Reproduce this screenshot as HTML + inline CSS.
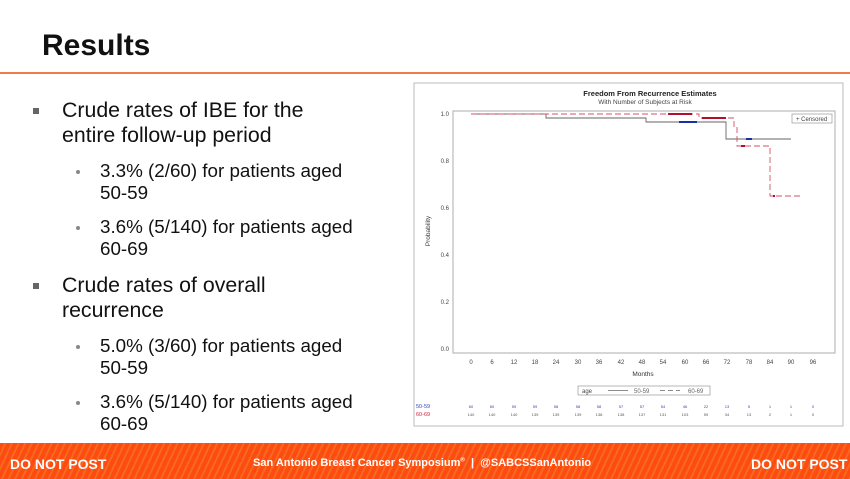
<!DOCTYPE html>
<html><head><meta charset="utf-8"><style>
body{margin:0;width:850px;height:479px;overflow:hidden;background:#fff;font-family:"Liberation Sans",Arial,sans-serif;position:relative}
.t{position:absolute;white-space:nowrap;color:#111}
.l1{font-size:21.3px;left:62px}
.l2{font-size:18.8px;left:100px}
.b1{position:absolute;left:33px;width:6px;height:6px;background:#666}
.b2{position:absolute;left:76px;width:4px;height:4px;border-radius:2px;background:#888}
</style></head><body>
<div class="t" style="left:42px;top:29px;font-size:30px;font-weight:bold">Results</div>
<div style="position:absolute;left:0;top:72px;width:850px;height:2px;background:#f07a4a"></div>

<div class="b1" style="top:108px"></div>
<div class="t l1" style="top:98px">Crude rates of IBE for the</div>
<div class="t l1" style="top:123px">entire follow-up period</div>
<div class="b2" style="top:170px"></div>
<div class="t l2" style="top:160px">3.3% (2/60) for patients aged</div>
<div class="t l2" style="top:182px">50-59</div>
<div class="b2" style="top:226px"></div>
<div class="t l2" style="top:216px">3.6% (5/140) for patients aged</div>
<div class="t l2" style="top:238px">60-69</div>
<div class="b1" style="top:283px"></div>
<div class="t l1" style="top:273px">Crude rates of overall</div>
<div class="t l1" style="top:298px">recurrence</div>
<div class="b2" style="top:345px"></div>
<div class="t l2" style="top:335px">5.0% (3/60) for patients aged</div>
<div class="t l2" style="top:357px">50-59</div>
<div class="b2" style="top:401px"></div>
<div class="t l2" style="top:391px">3.6% (5/140) for patients aged</div>
<div class="t l2" style="top:413px">60-69</div>

<svg style="position:absolute;left:0;top:0" width="850" height="479" font-family="Liberation Sans, Arial, sans-serif">
<rect x="414" y="83" width="429" height="343" fill="#fff" stroke="#bbb" stroke-width="1"/>
<text x="650" y="96" font-size="7.5" font-weight="bold" text-anchor="middle" fill="#222">Freedom From Recurrence Estimates</text>
<text x="645" y="104" font-size="6.5" text-anchor="middle" fill="#444">With Number of Subjects at Risk</text>
<rect x="453" y="111" width="382" height="242" fill="none" stroke="#999" stroke-width="0.8"/>
<g font-size="6" fill="#444" text-anchor="end">
<text x="449" y="116">1.0</text><text x="449" y="163">0.8</text><text x="449" y="210">0.6</text><text x="449" y="257">0.4</text><text x="449" y="304">0.2</text><text x="449" y="351">0.0</text>
</g>
<text x="430" y="231" font-size="6.5" fill="#444" text-anchor="middle" transform="rotate(-90 430 231)">Probability</text>
<g font-size="6" fill="#444" text-anchor="middle">
<text x="471" y="364">0</text><text x="492" y="364">6</text><text x="514" y="364">12</text><text x="535" y="364">18</text><text x="556" y="364">24</text><text x="578" y="364">30</text><text x="599" y="364">36</text><text x="621" y="364">42</text><text x="642" y="364">48</text><text x="663" y="364">54</text><text x="685" y="364">60</text><text x="706" y="364">66</text><text x="727" y="364">72</text><text x="749" y="364">78</text><text x="770" y="364">84</text><text x="791" y="364">90</text><text x="813" y="364">96</text>
</g>
<text x="643" y="376" font-size="6.5" fill="#333" text-anchor="middle">Months</text>
<rect x="792" y="114" width="40" height="9" fill="#fff" stroke="#888" stroke-width="0.6"/>
<text x="796" y="121" font-size="6" fill="#444">+ Censored</text>
<polyline fill="none" stroke="#666" stroke-width="0.9" points="471,114 546,114 546,118 646,118 646,122 726,122 726,139 791,139"/>
<polyline fill="none" stroke="#d0506a" stroke-width="0.9" stroke-dasharray="6,3" points="471,114 699,114 699,118 734,118 734,127 737,127 737,146 770,146 770,196 802,196"/>
<g fill="#1a2fa0"><rect x="679" y="121" width="18" height="2"/><rect x="746" y="138" width="6" height="2"/></g>
<g fill="#b0102a"><rect x="668" y="113" width="24" height="2"/><rect x="702" y="117" width="24" height="2"/><rect x="741" y="145" width="4" height="2"/><rect x="773" y="195" width="2" height="2"/></g>
<rect x="578" y="386" width="132" height="9" fill="#fff" stroke="#888" stroke-width="0.6"/>
<text x="582" y="393" font-size="6" fill="#444">age</text>
<line x1="608" y1="390.5" x2="628" y2="390.5" stroke="#666" stroke-width="0.8"/>
<text x="634" y="393" font-size="6" fill="#666">50-59</text>
<line x1="660" y1="390.5" x2="680" y2="390.5" stroke="#666" stroke-width="0.8" stroke-dasharray="5,3"/>
<text x="688" y="393" font-size="6" fill="#666">60-69</text>
<text x="416" y="408" font-size="5.5" fill="#3344bb">50-59</text>
<text x="416" y="416" font-size="5.5" fill="#cc2244">60-69</text>
<g font-size="4" fill="#3344bb" text-anchor="middle">
<text x="471" y="408">60</text><text x="492" y="408">60</text><text x="514" y="408">59</text><text x="535" y="408">59</text><text x="556" y="408">58</text><text x="578" y="408">58</text><text x="599" y="408">58</text><text x="621" y="408">57</text><text x="642" y="408">57</text><text x="663" y="408">54</text><text x="685" y="408">46</text><text x="706" y="408">22</text><text x="727" y="408">13</text><text x="749" y="408">5</text><text x="770" y="408">1</text><text x="791" y="408">1</text><text x="813" y="408">0</text>
</g>
<g font-size="4" fill="#555" text-anchor="middle">
<text x="471" y="416">140</text><text x="492" y="416">140</text><text x="514" y="416">140</text><text x="535" y="416">139</text><text x="556" y="416">139</text><text x="578" y="416">139</text><text x="599" y="416">138</text><text x="621" y="416">138</text><text x="642" y="416">137</text><text x="663" y="416">131</text><text x="685" y="416">103</text><text x="706" y="416">59</text><text x="727" y="416">34</text><text x="749" y="416">13</text><text x="770" y="416">2</text><text x="791" y="416">1</text><text x="813" y="416">0</text>
</g>
</svg>

<div style="position:absolute;left:0;top:443px;width:850px;height:36px;background:repeating-linear-gradient(115deg,#ff4a10 0,#ff4a10 4px,#f56a20 4px,#f56a20 6px)"></div>
<div class="t" style="left:10px;top:456px;font-size:14px;font-weight:bold;color:#fff">DO NOT POST</div>
<div class="t" style="left:253px;top:457px;font-size:11px;font-weight:bold;color:#fff">San Antonio Breast Cancer Symposium<sup style="font-size:6px">®</sup> &nbsp;|&nbsp; @SABCSSanAntonio</div>
<div class="t" style="left:751px;top:456px;font-size:14px;font-weight:bold;color:#fff">DO NOT POST</div>
</body></html>
